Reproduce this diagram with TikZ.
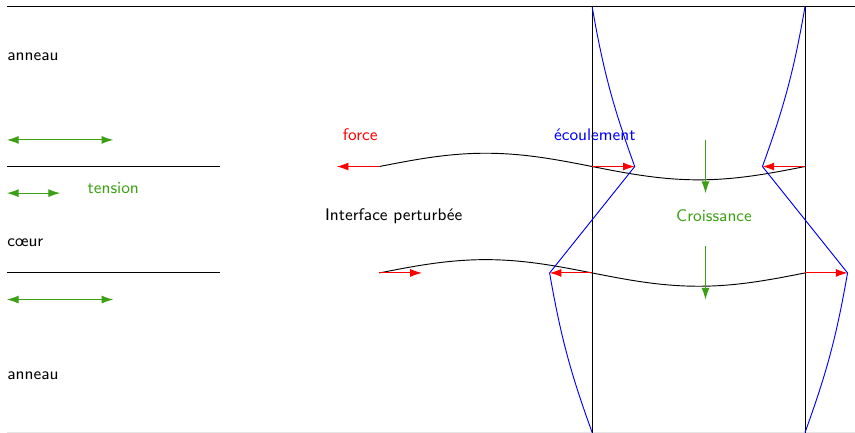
\documentclass[tikz,border=0pt]{standalone}
\usepackage{tikz}
\usetikzlibrary{arrows.meta,positioning}
\usepackage{xcolor}
\definecolor{myred}{RGB}{255,0,0}
\definecolor{mygreen}{RGB}{60,160,20}
\definecolor{myblue}{RGB}{0,0,255}

\begin{document}
\begin{tikzpicture}[font=\sffamily\small, line width=0.5pt, >={Latex[length=2.2mm,width=1.5mm]},
  force/.style={->, myred},
  croiss/.style={->, mygreen},
  label/.style={anchor=west, inner sep=0pt}]
  \useasboundingbox (-0.13,0) rectangle (15.94,8.13);

  % Bords
  \draw (0,8) -- (16,8);
  \draw[black!10] (0,0) -- (16,0);

  % Jet au repos
  \node[label] (ann1) at (0,7.06) {anneau};
  \node[label] (coeur) at (0,3.56) {cœur};
  \node[label] (ann2) at (0,1.06) {anneau};
  \coordinate (h1a) at (0,5); \coordinate (h1b) at (4,5);
  \coordinate (h2a) at (0,3); \coordinate (h2b) at (4,3);
  \draw (h1a) -- (h1b);
  \draw (h2a) -- (h2b);
  \coordinate (t1a) at (0,5.5); \coordinate (t1b) at (2,5.5);
  \coordinate (t2a) at (0,4.5); \coordinate (t2b) at (1,4.5);
  \coordinate (t3a) at (0,2.5); \coordinate (t3b) at (2,2.5);
  \draw[<->, mygreen] (t1a) -- (t1b);
  \draw[<->, mygreen] (t2a) -- (t2b);
  \draw[<->, mygreen] (t3a) -- (t3b);
  \node[mygreen] (tens) at (2,4.6) {tension};

  % Interface perturbee
  \draw[domain=7:15, smooth, samples=60] plot (\x, {5+0.25*sin(45*(\x-7))});
  \draw[domain=7:15, smooth, samples=60] plot (\x, {3+0.25*sin(45*(\x-7))});
  \node (interf) at (7.27,4.06) {Interface perturbée};
  \node[myred] (forc) at (6.64,5.6) {force};
  \node[myblue] (ecoul) at (11.05,5.6) {écoulement};
  \node[mygreen] (crois) at (13.29,4.08) {Croissance};

  % Points de l'interface
  \coordinate (p1) at (7,5);  \coordinate (q1) at (6.2,5);
  \coordinate (p2) at (7,3);  \coordinate (q2) at (7.8,3);
  \coordinate (p3) at (11,5); \coordinate (q3) at (11.8,5);
  \coordinate (p4) at (15,5); \coordinate (q4) at (14.2,5);
  \coordinate (p5) at (11,3); \coordinate (q5) at (10.2,3);
  \coordinate (p6) at (15,3); \coordinate (q6) at (15.8,3);

  % Tranches
  \coordinate (v1a) at (11,0); \coordinate (v1b) at (11,8);
  \coordinate (v2a) at (15,0); \coordinate (v2b) at (15,8);
  \draw (v1a) -- (v1b);
  \draw (v2a) -- (v2b);

  % Ecoulement
  \draw[myblue] (v1b) to[bend right=5] (q3) -- (q5) to[bend right=5] (v1a);
  \draw[myblue] (v2b) to[bend left=5] (q4) -- (q6) to[bend left=5] (v2a);

  % Forces
  \foreach \i in {1,...,6}
    \draw[force] (p\i) -- (q\i);

  % Croissance
  \coordinate (g1a) at (13.13,5.5); \coordinate (g1b) at (13.13,4.5);
  \coordinate (g2a) at (13.13,3.5); \coordinate (g2b) at (13.13,2.5);
  \draw[croiss] (g1a) -- (g1b);
  \draw[croiss] (g2a) -- (g2b);
\end{tikzpicture}
\end{document}
